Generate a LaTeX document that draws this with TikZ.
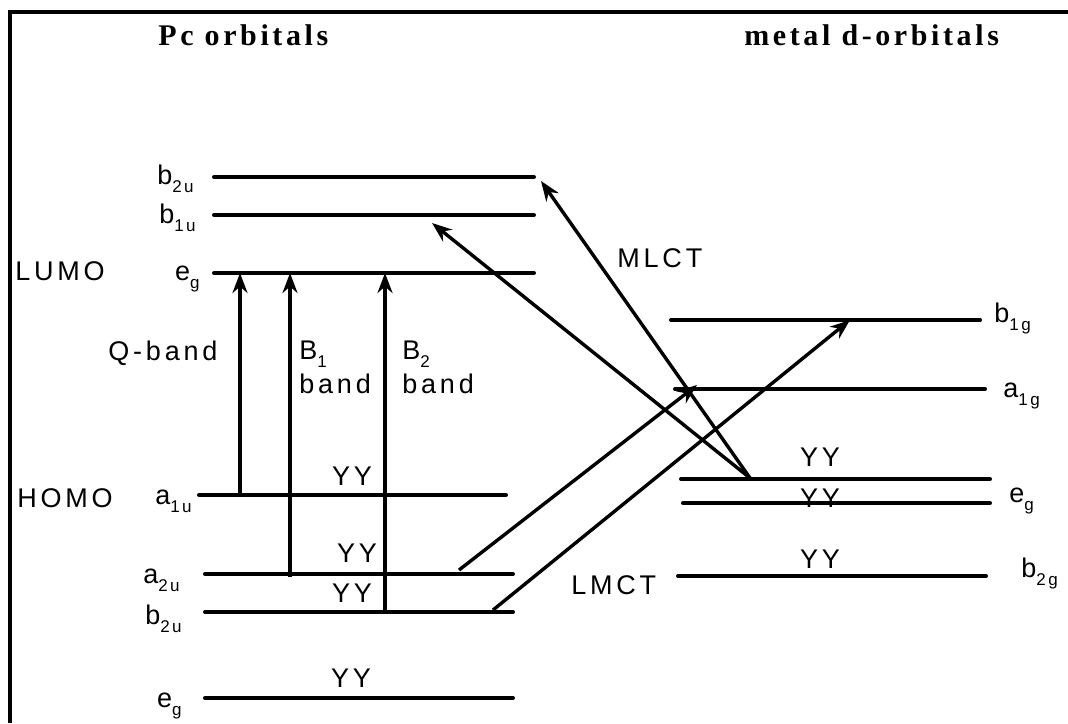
\documentclass[tikz,border=0pt]{standalone}
\usepackage{fontspec}
\setmainfont{Liberation Serif}
\setsansfont[LetterSpace=14]{Liberation Sans}
\newfontfamily\titlefont[LetterSpace=12]{Liberation Serif}
\usetikzlibrary{arrows.meta, positioning}
\newcommand{\orbsub}[1]{\raisebox{-4pt}{\fontsize{8.5}{9}\selectfont #1}}

\begin{document}
\begin{tikzpicture}[x=0.5pt, y=-0.5pt,
    level/.style={line width=2pt, line cap=round},
    trans/.style={line width=1.7pt, -{Stealth[length=10pt, width=7.5pt]}},
    lbl/.style={font=\sffamily\fontsize{13.5}{17}\selectfont, inner sep=0pt},
    ttl/.style={font=\titlefont\bfseries\fontsize{15}{18}\selectfont, inner sep=0pt}]
  \useasboundingbox (0,0) rectangle (1068,723);

  % Frame
  \draw[line width=2pt] (10,723) -- (10,12) -- (1068,12);

  % Titles
  \node[ttl, anchor=base west] (pctitle) at (158,45) {Pc orbitals};
  \node[ttl, anchor=base west] (dtitle) at (744,45) {metal d-orbitals};

  % Level labels
  \node[lbl, anchor=base east] (lpb2u) at (194,184) {b\orbsub{2u}};
  \node[lbl, anchor=base east] (lpb1u) at (196,223) {b\orbsub{1u}};
  \node[lbl, anchor=base east] (lpeg)  at (200,280) {e\orbsub{g}};
  \node[lbl, anchor=base west] (lumo)  at (15,280) {LUMO};
  \node[lbl, anchor=base west] (homo)  at (17,507) {HOMO};
  \node[lbl, anchor=base east] (lpa1u) at (192,504) {a\orbsub{1u}};
  \node[lbl, anchor=base east] (lpa2u) at (180,583) {a\orbsub{2u}};
  \node[lbl, anchor=base east] (lpb2d) at (182,624) {b\orbsub{2u}};
  \node[lbl, anchor=base east] (lpegd) at (182,707) {e\orbsub{g}};
  \node[lbl, anchor=base west] (lmb1g) at (994,322) {b\orbsub{1g}};
  \node[lbl, anchor=base west] (lma1g) at (1003,397) {a\orbsub{1g}};
  \node[lbl, anchor=base west] (lmeg)  at (1009,502) {e\orbsub{g}};
  \node[lbl, anchor=base west] (lmb2g) at (1021,577) {b\orbsub{2g}};

  % Electron pairs
  \foreach \n/\x/\y in {ya1u/352/485, ya2u/357/562, yb2u/352/602, yegd/351/687,
                         ymegu/820/466, ymegd/820/507, ymb2g/820/568}
    \node[lbl, anchor=base] (\n) at (\x,\y) {YY};

  % Band labels
  \node[lbl, anchor=base west] (qband) at (108,360) {Q-band};
  \node[lbl, anchor=north west, align=left] (b1band) at (299,341) {B\orbsub{1}\\band};
  \node[lbl, anchor=north west, align=left] (b2band) at (402,341) {B\orbsub{2}\\band};
  \node[lbl, anchor=base west] (mlct) at (617,267) {MLCT};
  \node[lbl, anchor=base west] (lmct) at (571,594) {LMCT};

  % Levels
  \foreach \n/\xa/\xb/\y in {pb2u/214/534/177, pb1u/214/534/215, peg/214/534/273,
                             pa1u/199/506/495, pa2u/205/513/574, pb2d/205/513/612,
                             pegd/205/513/698,
                             mb1g/671/980/320, ma1g/675/985/389, megu/681/990/479,
                             megd/683/990/503, mb2g/678/986/576} {
    \coordinate (\n-l) at (\xa,\y);
    \coordinate (\n-r) at (\xb,\y);
    \draw[level] (\n-l) -- (\n-r);
  }

  % Transition end points
  \coordinate (q-s) at (240,495);   \coordinate (q-e) at (240,273);
  \coordinate (b1-s) at (290,577);  \coordinate (b1-e) at (290,273);
  \coordinate (b2-s) at (385,612);  \coordinate (b2-e) at (385,273);
  \coordinate (lm1-s) at (459,570); \coordinate (lm1-e) at (697,385);
  \coordinate (lm2-s) at (493,610); \coordinate (lm2-e) at (850,320);
  \coordinate (ml-s) at (750,478);
  \coordinate (ml1-e) at (432,223); \coordinate (ml2-e) at (541,181);

  % Transitions
  \draw[trans] (q-s) -- (q-e);
  \draw[trans] (b1-s) -- (b1-e);
  \draw[trans] (b2-s) -- (b2-e);
  \draw[trans] (lm1-s) -- (lm1-e);
  \draw[trans] (lm2-s) -- (lm2-e);
  \draw[trans] (ml-s) -- (ml1-e);
  \draw[trans] (ml-s) -- (ml2-e);
\end{tikzpicture}
\end{document}
